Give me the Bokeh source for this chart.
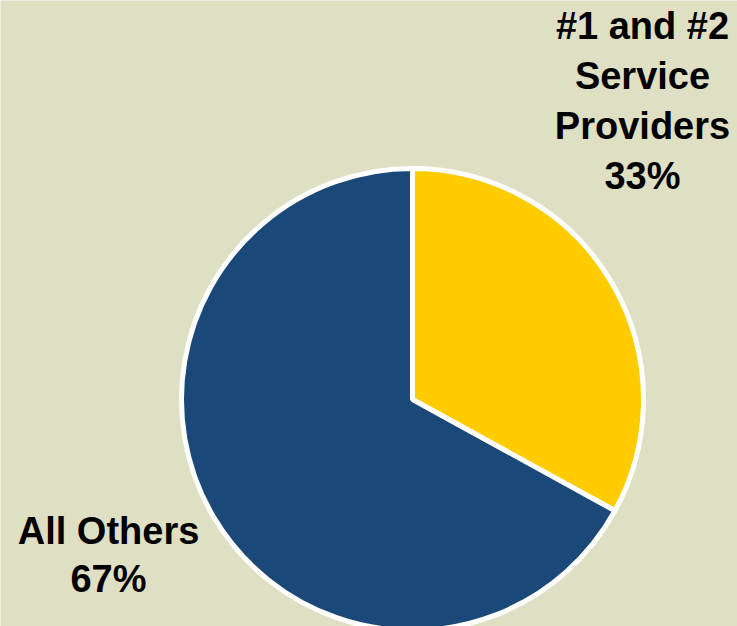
import math
from bokeh.plotting import figure
from bokeh.models import Range1d, ColumnDataSource
from bokeh.core.properties import value
from bokeh.embed import file_html
from bokeh.resources import INLINE

# Data
categories = ["#1 and #2 Service Providers", "All Others"]
shares = [33, 67]
label_lines = [["#1 and #2", "Service", "Providers", "33%"], ["All Others", "67%"]]
colors = ["#FFCC00", "#1A4878"]

W, H = 737, 626
p = figure(width=W, height=H, output_backend="svg", toolbar_location=None,
           x_range=Range1d(0, W), y_range=Range1d(0, H), min_border=0)
p.axis.visible = False
p.grid.visible = False
p.outline_line_color = None
p.background_fill_color = "#DFDFC3"
p.border_fill_color = "#DFDFC3"

total = sum(shares)
starts, ends = [], []
a = math.pi / 2
for s in shares:
    starts.append(a)
    a -= 2 * math.pi * s / total
    ends.append(a)

cx, cy, r = 412, H - 399, 231
src = ColumnDataSource(dict(start=starts, end=ends, color=colors, name=categories))
p.wedge(x=cx, y=cy, radius=r, radius_units="screen", start_angle="start", end_angle="end",
        direction="clock", fill_color="color", line_color="white", line_width=5, source=src)

# labels
positions = [(642, 25, 50), (108, 530, 48)]
xs, ys, ts = [], [], []
for lines, (lx, ly, step) in zip(label_lines, positions):
    for i, t in enumerate(lines):
        xs.append(lx)
        ys.append(H - (ly + i * step))
        ts.append(t)
p.text(x=xs, y=ys, text=ts, text_align="center", text_baseline="alphabetic",
       text_font=value("Liberation Sans"), text_font_style="bold", text_font_size="38px",
       text_color="black")

open("out.html", "w").write(file_html(p, INLINE))
